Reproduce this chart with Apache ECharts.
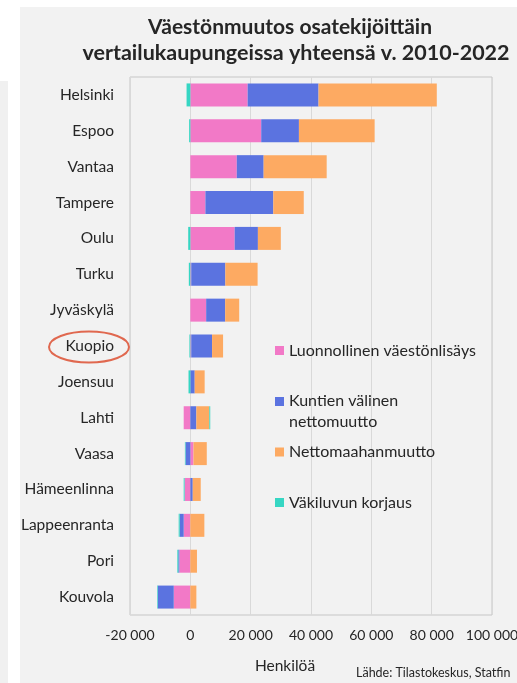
<!DOCTYPE html>
<html>
<head>
<meta charset="utf-8">
<script src="https://cdn.jsdelivr.net/npm/echarts@6/dist/echarts.min.js"></script>
<style>
html,body{margin:0;padding:0;background:#ffffff;}
#wrap{position:relative;width:517px;height:683px;background:#ffffff;}
#leftpanel{position:absolute;left:0;top:81px;width:8px;height:602px;background:#f0f0f0;}
#panel{position:absolute;left:20px;top:7px;width:497px;height:676px;background:#f2f2f2;}
#chart{position:absolute;left:0;top:0;width:517px;height:683px;}
</style>
</head>
<body>
<div id="wrap">
<div id="leftpanel"></div>
<div id="panel"></div>
<div id="chart"></div>
</div>
<script>
const cities = ['Helsinki','Espoo','Vantaa','Tampere','Oulu','Turku','Jyväskylä','Kuopio','Joensuu','Lahti','Vaasa','Hämeenlinna','Lappeenranta','Pori','Kouvola'];
const seriesNames = ['Luonnollinen väestönlisäys','Kuntien välinen nettomuutto','Nettomaahanmuutto','Väkiluvun korjaus'];
const natural     = [19000, 23500, 15400,  5000, 14700,   300, 5250,  300,    0, -2200,  1050, -1900, -2200, -3650, -5500];
const internal    = [23500, 12500,  8900, 22500,  7700, 11300, 6300, 6900, 1450,  2000, -1600,   800, -1330,  -330, -5300];
const immigration = [39200, 25100, 20900, 10100,  7600, 10700, 4650, 3650, 3300,  4300,  4400,  2650,  4650,  2200,  2000];
const correction  = [-1250,  -400,     0,     0,  -700,  -500,    0, -300, -600,   300,  -200,  -300,  -330,  -330,  -200];
const xTicks = { min: -20000, max: 100000, step: 20000 };

const colors = ['#f279c7', '#5b73e0', '#fdaa62', '#36d6c3'];
const FONT = 'Lato, "Open Sans", sans-serif';
const TXT = '#262626';

function fmt(v){
  const s = String(Math.abs(v)).replace(/\B(?=(\d{3})+(?!\d))/g, ' ');
  return (v < 0 ? '-' : '') + s;
}

const chart = echarts.init(document.getElementById('chart'), null, {renderer:'canvas'});
const valueSets = [natural, internal, immigration, correction];

const legendTops = [340, 390.5, 441.5, 492];
const legends = seriesNames.map((n, i) => ({
  data: [n],
  left: 275,
  top: legendTops[i],
  padding: 0,
  orient: 'vertical',
  itemWidth: 9,
  itemHeight: i === 1 ? 29 : 9,
  icon: i === 1 ? 'path://M0,0h9v9h-9zM4.45,28.9h0.1v0.1h-0.1z' : 'rect',
  selectedMode: false,
  textStyle: { fontFamily: FONT, fontSize: 16, color: TXT, lineHeight: 21 },
  formatter: name => name === 'Kuntien välinen nettomuutto' ? 'Kuntien välinen\nnettomuutto' : name
}));

const option = {
  animation: false,
  backgroundColor: 'transparent',
  textStyle: { fontFamily: FONT },
  title: [
    { text: 'Väestönmuutos osatekijöittäin', left: 290, top: 17, textAlign: 'center', padding: 0,
      textStyle: { fontFamily: FONT, fontSize: 21, fontWeight: 'bold', color: TXT } },
    { text: 'vertailukaupungeissa yhteensä v. 2010-2022', left: 296, top: 42, textAlign: 'center', padding: 0,
      textStyle: { fontFamily: FONT, fontSize: 21.5, fontWeight: 'bold', color: TXT } }
  ],
  legend: legends,
  grid: { left: 130, right: 25, top: 77, bottom: 68, show: true, borderColor: '#c6c6c6', borderWidth: 1,
          backgroundColor: 'transparent', containLabel: false, outerBoundsMode: 'none' },
  xAxis: {
    type: 'value', min: xTicks.min, max: xTicks.max, interval: xTicks.step,
    axisLine: { show: false }, axisTick: { show: false },
    splitLine: { lineStyle: { color: '#d9d9d9', width: 1 } },
    axisLabel: { formatter: fmt, fontFamily: FONT, fontSize: 14, color: TXT, margin: 13, hideOverlap: false }
  },
  yAxis: {
    type: 'category', data: cities, inverse: true,
    axisLine: { show: false }, axisTick: { show: false },
    axisLabel: { fontFamily: FONT, fontSize: 15.5, color: TXT, margin: 16 }
  },
  series: seriesNames.map((n, i) => ({
    name: n, type: 'bar', stack: 'total', barWidth: 23,
    itemStyle: { color: colors[i] },
    data: valueSets[i]
  }))
};
chart.setOption(option);

const ky = chart.convertToPixel({ yAxisIndex: 0 }, 'Kuopio');
chart.setOption({
  graphic: [
    { type: 'text', x: 285, y: 666, style: { text: 'Henkilöä', fontFamily: FONT, fontSize: 15.5, fill: TXT, align: 'center', verticalAlign: 'middle' } },
    { type: 'text', x: 356, y: 673, style: { text: 'Lähde: Tilastokeskus, Statfin', fontFamily: FONT, fontSize: 12.5, fill: TXT, align: 'left', verticalAlign: 'middle' } },
    { type: 'ellipse', shape: { cx: 89, cy: ky + 1, rx: 40, ry: 15.5 }, style: { fill: 'none', stroke: '#e0684f', lineWidth: 2 } }
  ]
});
</script>
</body>
</html>
